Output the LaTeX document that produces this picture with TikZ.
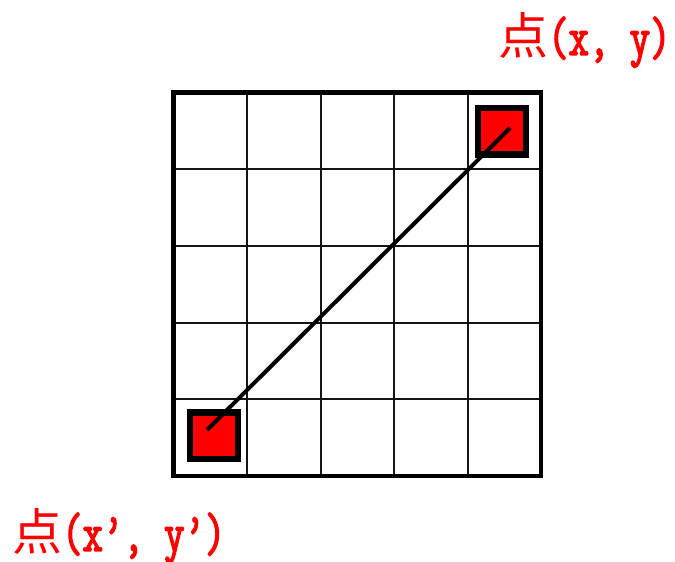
\documentclass[tikz,border=0pt]{standalone}
\usepackage{fontspec}
\usepackage{tikz}
\usetikzlibrary{calc,positioning}
\newfontfamily\cjk{Noto Sans CJK SC}
\newfontfamily\monofont{Latin Modern Mono}[FakeBold=2.5, FakeStretch=0.72]
\definecolor{ptRed}{RGB}{255,0,0}
\definecolor{gridGray}{RGB}{20,20,20}
\newcommand{\ptlabel}[1]{{\cjk\fontsize{50}{54}\selectfont 点}{\monofont\fontsize{55}{60}\selectfont #1}}

\begin{document}
\begin{tikzpicture}[x=1pt,y=1pt,
    ptbox/.style={draw=black, fill=ptRed, line width=6.5pt, inner sep=0pt,
        minimum width=48pt, minimum height=46.5pt},
    ptlab/.style={text=ptRed, anchor=base west, inner sep=0pt}]
    \useasboundingbox (0,0) rectangle (675,562);

    % thin grid lines
    \foreach \i in {1,...,4} {
        \draw[gridGray, line width=2pt] ({173.5+73.5*\i},86) -- ({173.5+73.5*\i},469.5);
        \draw[gridGray, line width=2pt] (173.5,{86+76.7*\i}) -- (541,{86+76.7*\i});
    }

    % outer frame
    \draw[black, line width=4.5pt] (173.5,86) rectangle (541,469.5);

    % the two points
    \node[ptbox] (start) at (214,126) {};
    \node[ptbox] (goal) at (502,430.5) {};

    % line between them
    \coordinate (startEnd) at ($(start.center)+(-7,6)$);
    \coordinate (goalEnd) at ($(goal.center)+(8,3.5)$);
    \draw[black, line width=4pt] (startEnd) -- (goalEnd);

    % labels
    \node[ptlab] (goalLab) at (498,507) {\ptlabel{(x, y)}};
    \node[ptlab] (startLab) at (12,11) {\ptlabel{(x’, y’)}};
\end{tikzpicture}
\end{document}
